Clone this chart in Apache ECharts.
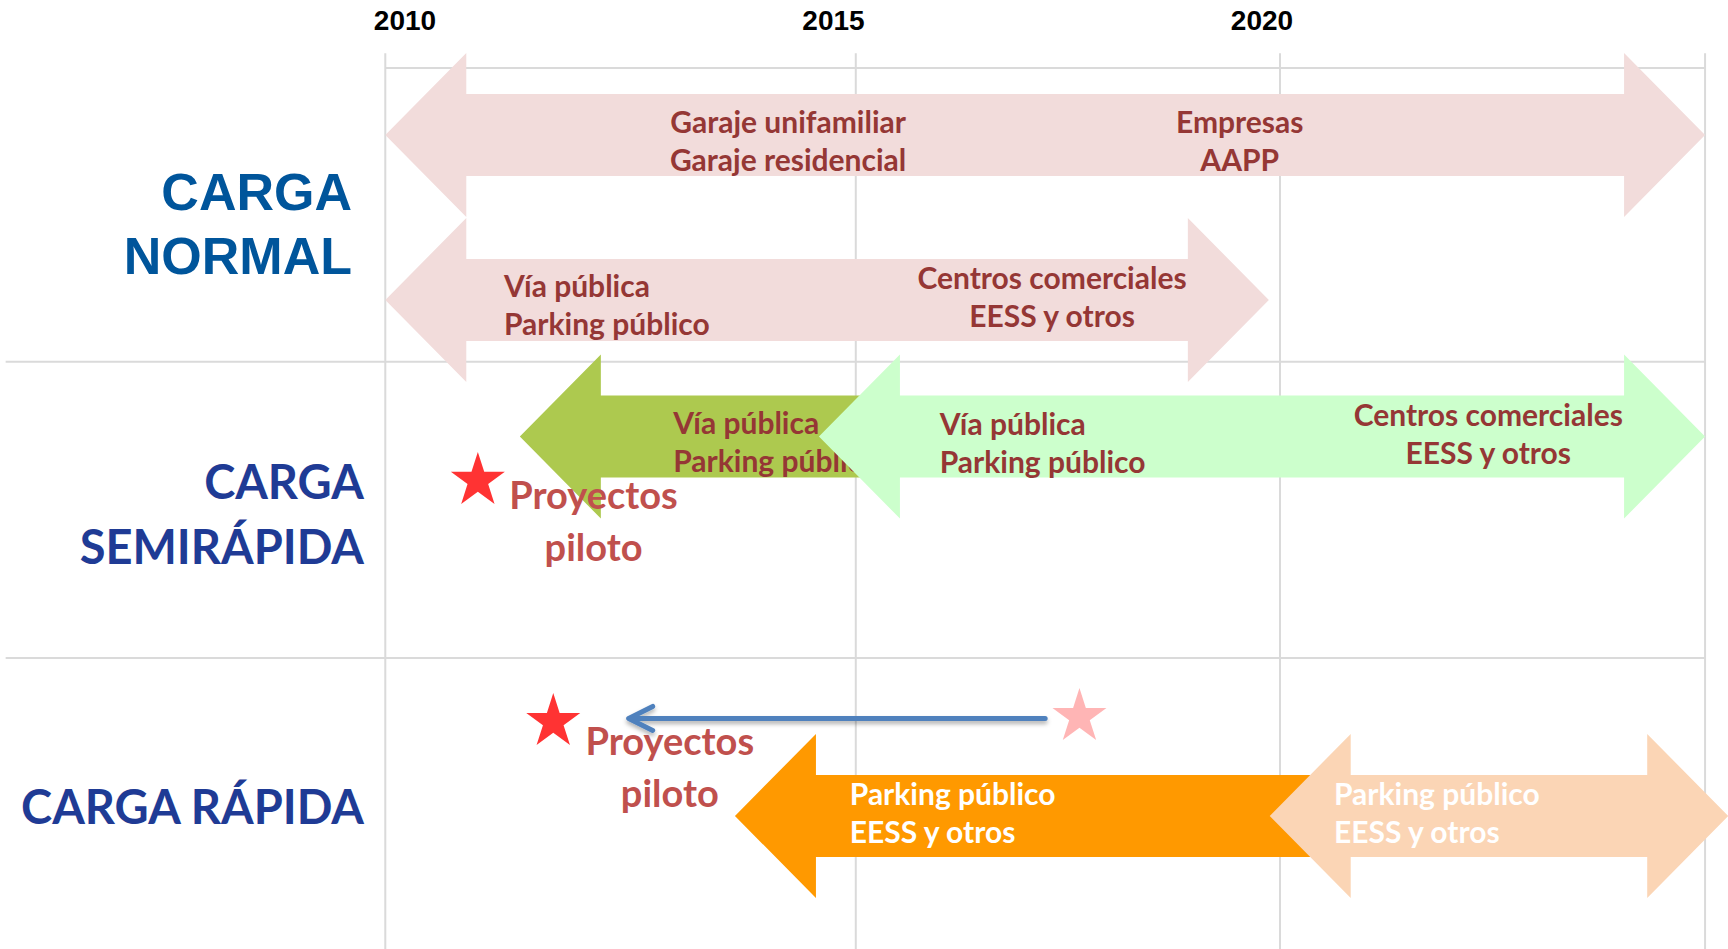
<!DOCTYPE html>
<html>
<head>
<meta charset="utf-8">
<title>Carga de vehículos eléctricos</title>
<script src="https://cdn.jsdelivr.net/npm/echarts@6/dist/echarts.min.js"></script>
<style>
  html, body { margin: 0; padding: 0; background: #fff; }
  #chart { width: 1728px; height: 949px; }
</style>
</head>
<body>
<div id="chart"></div>
<script>
// años del eje superior
var years = [2010, 2015, 2020];
// filas de la tabla (0 = arriba)
var rowLabels = ['CARGA\nNORMAL', 'CARGA\nSEMIRÁPIDA', 'CARGA RÁPIDA'];

// flechas: año de inicio, año de fin, fila
var arrowStart = [2009.77, 2009.77, 2011.34, 2014.83, 2013.85, 2020.09];
var arrowEnd = [2025.17, 2020.08, 2015.55, 2025.17, 2020.56, 2025.44];
var arrowRow = [0.228, 0.79, 1.255, 1.255, 2.547, 2.547];
var arrowHeads = ['both', 'both', 'left', 'both', 'left', 'both'];

// textos de cada flecha
var noteText = [
  'Garaje unifamiliar\nGaraje residencial', 'Empresas\nAAPP',
  'Vía pública\nParking público', 'Centros comerciales\nEESS y otros',
  'Vía pública\nParking público',
  'Vía pública\nParking público', 'Centros comerciales\nEESS y otros',
  'Parking público\nEESS y otros',
  'Parking público\nEESS y otros'
];
var noteArrow = [0, 0, 1, 1, 2, 3, 3, 4, 5];
var noteYear = [2014.47, 2019.74, 2011.155, 2017.55, 2013.13, 2016.24, 2022.64, 2015.19, 2020.84];
var noteRow = [0.2435, 0.2435, 0.802, 0.776, 1.27, 1.274, 1.243, 2.533, 2.533];

// proyectos piloto
var pilotText = ['Proyectos\npiloto', 'Proyectos\npiloto'];
var pilotYear = [2012.2, 2013.09];
var pilotRow = [1.539, 2.377];

// estrellas
var starYear = [2010.85, 2011.73, 2017.87];
var starRow = [1.396, 2.217, 2.2];

// flecha azul (de -> a)
var blueLine = [2017.47, 2.215, 2012.61, 2.215];

// líneas de la tabla
var columnYears = [2009.77, 2015.26, 2020.21, 2025.17];
var rowLines = [0, 1, 2.009];
var tableLeftYear = 2005.34;

// estilos
var arrowColors = ['#F2DCDB', '#F2DCDB', '#ADC94F', '#CCFFCC', '#FF9900', '#FBD5B5'];
var noteAlign = ['center', 'center', 'left', 'center', 'left', 'left', 'center', 'left', 'left'];
var noteColors = ['#953735', '#953735', '#953735', '#953735', '#953735', '#953735', '#953735', '#FFFFFF', '#FFFFFF'];
var starColors = ['#FF0000', '#FF0000', '#FFA3A3'];
var rowLabelStyle = ['n', 's', 's'];
var starPath = 'path://M100,0 L122.45,69.1 L195.1,69.1 L136.33,111.8 L158.78,180.9 L100,138.2 L41.22,180.9 L63.67,111.8 L4.9,69.1 L77.55,69.1 Z';

var chart = echarts.init(document.getElementById('chart'), null, { renderer: 'svg' });

function textEl(x, y, text, align, color, size, lineHeight) {
  return {
    type: 'text',
    x: x,
    y: y,
    style: {
      text: text,
      fill: color,
      fontFamily: 'Lato',
      fontWeight: 'bold',
      fontSize: size,
      lineHeight: lineHeight,
      align: align,
      verticalAlign: 'middle',
      textAlign: align,
      textVerticalAlign: 'middle'
    }
  };
}

function arrowPoints(x1, x2, cy, heads) {
  var sh = 41, hh = 82, hl = 81;
  var pts = [];
  var left = heads === 'both' || heads === 'left';
  var right = heads === 'both' || heads === 'right';
  if (left) {
    pts.push([x1, cy], [x1 + hl, cy - hh], [x1 + hl, cy - sh]);
  } else {
    pts.push([x1, cy - sh]);
  }
  if (right) {
    pts.push([x2 - hl, cy - sh], [x2 - hl, cy - hh], [x2, cy], [x2 - hl, cy + hh], [x2 - hl, cy + sh]);
  } else {
    pts.push([x2, cy - sh], [x2, cy + sh]);
  }
  if (left) {
    pts.push([x1 + hl, cy + sh], [x1 + hl, cy + hh]);
  } else {
    pts.push([x1, cy + sh]);
  }
  return pts;
}

var option = {
  animation: false,
  backgroundColor: '#fff',
  grid: { left: 385, right: 23, top: 68, bottom: 0 },
  xAxis: {
    type: 'value',
    min: 2009.7666,
    max: 2025.1692,
    position: 'top',
    axisLine: { show: false },
    axisTick: { show: false },
    splitLine: { show: false },
    axisLabel: {
      customValues: years,
      margin: 34,
      formatter: function (v) { return String(v); },
      fontFamily: 'Liberation Sans',
      fontWeight: 'bold',
      fontSize: 28,
      color: '#000'
    }
  },
  yAxis: {
    type: 'value',
    min: 0,
    max: 3,
    inverse: true,
    axisLine: { show: false },
    axisTick: { show: false },
    splitLine: { show: false },
    axisLabel: {
      customValues: [0.531, 1.517, 2.513],
      margin: 21,
      formatter: function (v) {
        var i = Math.floor(v);
        var st = rowLabelStyle[i];
        return rowLabels[i].split('\n').map(function (s) {
          return '{' + st + '|' + s + '}';
        }).join('\n');
      },
      rich: {
        n: {
          fontFamily: 'Liberation Sans',
          fontWeight: 'bold',
          fontSize: 52,
          color: '#00559B',
          lineHeight: 64,
          padding: [0, 12, 0, 0]
        },
        s: {
          fontFamily: 'Lato',
          fontWeight: 'bold',
          fontSize: 47,
          color: '#1F3B95',
          lineHeight: 65
        }
      }
    }
  },
  series: [
    {
      // líneas de la tabla
      type: 'custom',
      z: 1,
      data: [[columnYears[0], 0]],
      renderItem: function (params, api) {
        var children = [];
        var style = { stroke: '#DADADA', lineWidth: 2 };
        columnYears.forEach(function (yr) {
          var a = api.coord([yr, -0.05]);
          var b = api.coord([yr, 3]);
          children.push({ type: 'line', shape: { x1: a[0], y1: a[1], x2: b[0], y2: b[1] }, style: style });
        });
        rowLines.forEach(function (r, k) {
          var a = api.coord([k === 0 ? columnYears[0] : tableLeftYear, r]);
          var b = api.coord([columnYears[columnYears.length - 1], r]);
          children.push({ type: 'line', shape: { x1: a[0], y1: a[1], x2: b[0], y2: b[1] }, style: style });
        });
        return { type: 'group', children: children };
      }
    },
    {
      // flechas con sus textos
      type: 'custom',
      z: 2,
      data: arrowStart.map(function (s, i) { return [s, arrowEnd[i], arrowRow[i], i]; }),
      encode: { x: [0, 1], y: 2 },
      renderItem: function (params, api) {
        var i = api.value(3);
        var p1 = api.coord([api.value(0), api.value(2)]);
        var p2 = api.coord([api.value(1), api.value(2)]);
        var children = [{
          type: 'polygon',
          shape: { points: arrowPoints(p1[0], p2[0], p1[1], arrowHeads[i]) },
          style: { fill: arrowColors[i] }
        }];
        noteText.forEach(function (t, k) {
          if (noteArrow[k] !== i) return;
          var p = api.coord([noteYear[k], noteRow[k]]);
          children.push(textEl(p[0], p[1], t, noteAlign[k], noteColors[k], 30, 38));
        });
        return { type: 'group', children: children };
      }
    },
    {
      // proyectos piloto
      type: 'custom',
      z: 3,
      data: pilotYear.map(function (y, i) { return [y, pilotRow[i], i]; }),
      renderItem: function (params, api) {
        var i = api.value(2);
        var p = api.coord([api.value(0), api.value(1)]);
        return textEl(p[0], p[1], pilotText[i], 'center', '#C0504D', 38, 52);
      }
    },
    {
      // flecha azul
      type: 'custom',
      z: 3,
      data: [blueLine],
      renderItem: function (params, api) {
        var a = api.coord([api.value(0), api.value(1)]);
        var b = api.coord([api.value(2), api.value(3)]);
        return {
          type: 'polyline',
          shape: {
            points: [[b[0] + 24, b[1] - 12], [b[0], b[1]], [b[0] + 24, b[1] + 12], [b[0], b[1]], [a[0], a[1]]]
          },
          style: {
            stroke: '#4F81BD', lineWidth: 5, fill: null, lineCap: 'round', lineJoin: 'round',
            shadowBlur: 4, shadowOffsetY: 3, shadowColor: 'rgba(0,0,0,0.3)'
          }
        };
      }
    },
    {
      // estrellas
      type: 'scatter',
      z: 4,
      symbol: starPath,
      symbolSize: [54, 52],
      data: starYear.map(function (y, i) {
        return { value: [y, starRow[i]], itemStyle: { color: starColors[i] } };
      })
    }
  ]
};

chart.setOption(option);
</script>
</body>
</html>
